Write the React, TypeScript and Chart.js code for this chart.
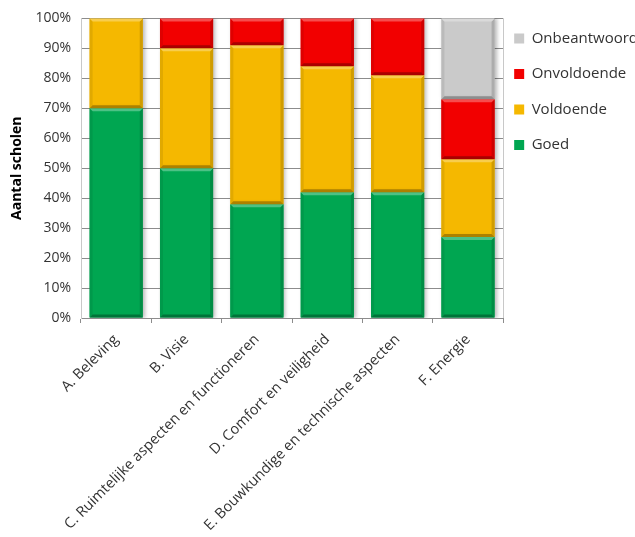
import React, { useEffect, useRef } from 'react';
import { Chart, registerables } from 'chart.js';

Chart.register(...registerables);

const categories = [
  'A. Beleving',
  'B. Visie',
  'C. Ruimtelijke aspecten en functioneren',
  'D. Comfort en veiligheid',
  'E. Bouwkundige en technische aspecten',
  'F. Energie',
];
const goed = [70, 50, 38, 42, 42, 27];
const voldoende = [30, 40, 53, 42, 39, 26];
const onvoldoende = [0, 10, 9, 16, 19, 20];
const onbeantwoord = [0, 0, 0, 0, 0, 27];
const seriesNames = ['Goed', 'Voldoende', 'Onvoldoende', 'Onbeantwoord'];
const seriesColors = ['#00A651', '#F5B800', '#F20000', '#CACACA'];
const yAxisTitle = 'Aantal scholen';

const FONT = "'Open Sans', 'Liberation Sans', sans-serif";

function shade(hex: string, amt: number): string {
  const n = parseInt(hex.slice(1), 16);
  let r = (n >> 16) & 255, g = (n >> 8) & 255, b = n & 255;
  if (amt >= 0) {
    r = Math.round(r + (255 - r) * amt);
    g = Math.round(g + (255 - g) * amt);
    b = Math.round(b + (255 - b) * amt);
  } else {
    r = Math.round(r * (1 + amt));
    g = Math.round(g * (1 + amt));
    b = Math.round(b * (1 + amt));
  }
  return `rgb(${r},${g},${b})`;
}

const bevelPlugin = {
  id: 'bevel',
  beforeDatasetsDraw(chart: any) {
    const { ctx, chartArea } = chart;
    ctx.save();
    ctx.strokeStyle = '#c8c8c8';
    ctx.lineWidth = 1;
    ctx.beginPath();
    ctx.moveTo(Math.round(chartArea.right) + 0.5, chartArea.top);
    ctx.lineTo(Math.round(chartArea.right) + 0.5, chartArea.bottom);
    ctx.stroke();
    ctx.restore();
    ctx.save();
    ctx.shadowColor = 'rgba(0,0,0,0.28)';
    ctx.shadowBlur = 4;
    ctx.shadowOffsetX = 2;
    ctx.shadowOffsetY = 0;
  },
  afterDatasetsDraw(chart: any) {
    const ctx = chart.ctx;
    ctx.restore();
    ctx.save();
    chart.data.datasets.forEach((ds: any, di: number) => {
      const meta = chart.getDatasetMeta(di);
      if (meta.hidden) return;
      meta.data.forEach((el: any, i: number) => {
        if (!ds.data[i]) return;
        const p = el.getProps(['x', 'y', 'base', 'width'], true);
        const l = p.x - p.width / 2, r = p.x + p.width / 2;
        const t = Math.min(p.y, p.base), b = Math.max(p.y, p.base);
        const d = 3;
        const c = ds.backgroundColor as string;
        const poly = (pts: number[][], col: string) => {
          ctx.fillStyle = col;
          ctx.beginPath();
          ctx.moveTo(pts[0][0], pts[0][1]);
          for (let k = 1; k < pts.length; k++) ctx.lineTo(pts[k][0], pts[k][1]);
          ctx.closePath();
          ctx.fill();
        };
        poly([[l, t], [l + d, t + d], [l + d, b - d], [l, b]], shade(c, -0.08));
        poly([[r, t], [r - d, t + d], [r - d, b - d], [r, b]], shade(c, -0.15));
        poly([[l, t], [r, t], [r - d, t + d], [l + d, t + d]], shade(c, 0.3));
        poly([[l, b], [r, b], [r - d, b - d], [l + d, b - d]], shade(c, -0.3));
      });
    });
    ctx.restore();
  },
};

export default function App() {
  const ref = useRef<HTMLCanvasElement | null>(null);

  useEffect(() => {
    if (!ref.current) return;
    const values = [goed, voldoende, onvoldoende, onbeantwoord];
    const chart = new Chart(ref.current, {
      type: 'bar',
      data: {
        labels: categories,
        datasets: seriesNames.map((name, i) => ({
          label: name,
          data: values[i],
          backgroundColor: seriesColors[i],
          borderWidth: 0,
          categoryPercentage: 1,
          barPercentage: 0.755,
        })),
      },
      options: {
        responsive: false,
        animation: false,
        layout: { padding: { top: 17, right: 0, bottom: 0, left: 0 } },
        plugins: {
          tooltip: { enabled: false },
          legend: {
            position: 'right',
            align: 'start',
            reverse: true,
            title: {
              display: true,
              text: '',
              font: { size: 1, lineHeight: 1 },
              padding: { top: 0, bottom: 2 },
            },
            labels: {
              boxWidth: 10,
              boxHeight: 10,
              padding: 11,
              color: '#333333',
              font: { family: FONT, size: 15, lineHeight: 1.633 },
              generateLabels: (c: any) =>
                Chart.defaults.plugins.legend.labels
                  .generateLabels(c)
                  .map((it: any) => ({ ...it, text: [it.text] })),
            },
          },
        },
        scales: {
          x: {
            stacked: true,
            grid: {
              offset: true,
              drawOnChartArea: false,
              tickLength: 5,
              color: '#8c8c8c',
            },
            border: { color: '#8c8c8c' },
            ticks: {
              autoSkip: false,
              minRotation: 45,
              maxRotation: 45,
              padding: 8,
              color: '#333333',
              font: { family: FONT, size: 14.5 },
            },
            afterFit: (s: any) => {
              s.height = 219;
            },
          },
          y: {
            stacked: true,
            min: 0,
            max: 100,
            grid: { color: '#8c8c8c', drawTicks: false },
            border: { color: '#c8c8c8' },
            ticks: {
              stepSize: 10,
              padding: 10,
              color: '#333333',
              font: { family: FONT, size: 14 },
              callback: (v: any) => v + '%',
            },
            title: {
              display: true,
              text: yAxisTitle,
              color: '#000000',
              font: { family: FONT, size: 14, weight: 'bold' },
              padding: { top: 9, bottom: 6 },
            },
            afterFit: (s: any) => {
              s.width = 81;
            },
          },
        },
      },
      plugins: [bevelPlugin],
    } as any);
    return () => chart.destroy();
  }, []);

  return (
    <div style={{ position: 'absolute', left: 0, top: 0, width: 635, height: 537, overflow: 'hidden', background: '#fff' }}>
      <canvas ref={ref} width={648} height={537} />
    </div>
  );
}
